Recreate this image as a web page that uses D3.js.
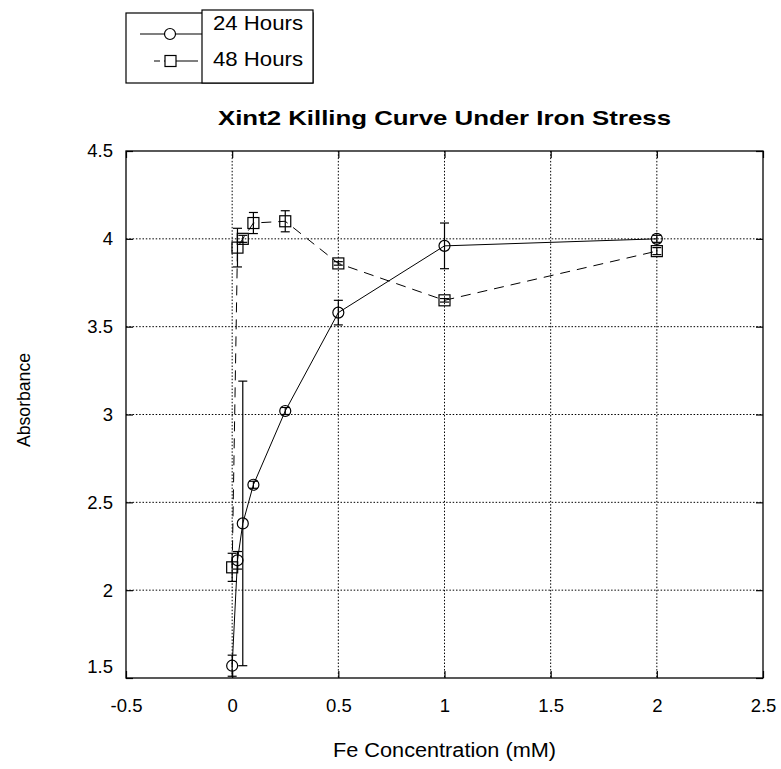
<!DOCTYPE html>
<html>
<head>
<meta charset="utf-8">
<script src="https://cdn.jsdelivr.net/npm/d3@7"></script>
<style>body{margin:0;background:white}</style>
</head>
<body>
<script>
const POLICE = '"Liberation Sans", Arial, sans-serif'

//Données
const concentrations = [0, 0.025, 0.05, 0.1, 0.25, 0.5, 1, 2]
const absorbance24 = [1.57, 2.17, 2.38, 2.60, 3.02, 3.58, 3.96, 4.00]
const erreur24 = [0.06, 0.05, 0.81, 0.02, 0.02, 0.07, 0.13, 0.02]
const absorbance48 = [2.13, 3.95, 4.00, 4.09, 4.10, 3.86, 3.65, 3.93]
const erreur48 = [0.08, 0.11, 0.02, 0.06, 0.06, 0.01, 0.01, 0.02]
const xTicks = [-0.5, 0, 0.5, 1, 1.5, 2, 2.5]
const yTicks = [1.5, 2, 2.5, 3, 3.5, 4, 4.5]
const seriesNames = ['24 Hours', '48 Hours']

const width = 781, height = 769
const gauche = 126, droite = 763, haut = 151, bas = 678

const svg = d3.select('body').append('svg')
    .attr('width', width).attr('height', height)
    .style('background-color', 'white')

const x = d3.scaleLinear().domain([-0.5, 2.5]).range([gauche, droite])
const y = d3.scaleLinear().domain([1.5, 4.5]).range([bas, haut])

//Grille pointillée
svg.append('g').selectAll('line').data(xTicks.slice(1, -1)).join('line')
    .attr('x1', d => x(d)).attr('x2', d => x(d)).attr('y1', haut).attr('y2', bas)
    .attr('stroke', '#000').attr('stroke-width', 1).attr('stroke-dasharray', '1.5,1.8')
svg.append('g').selectAll('line').data(yTicks.slice(1, -1)).join('line')
    .attr('x1', gauche).attr('x2', droite).attr('y1', d => y(d)).attr('y2', d => y(d))
    .attr('stroke', '#000').attr('stroke-width', 1).attr('stroke-dasharray', '1.5,1.8')

//Axes
const fmt = d => String(d)
const gx = svg.append('g').attr('transform', `translate(0,${bas})`)
    .call(d3.axisBottom(x).tickValues(xTicks).tickFormat(fmt).tickSizeInner(-7).tickSizeOuter(0).tickPadding(21))
const gxTop = svg.append('g').attr('transform', `translate(0,${haut})`)
    .call(d3.axisTop(x).tickValues(xTicks).tickFormat('').tickSizeInner(-7).tickSizeOuter(0))
const gy = svg.append('g').attr('transform', `translate(${gauche},0)`)
    .call(d3.axisLeft(y).tickValues(yTicks).tickFormat(fmt).tickSizeInner(-7).tickSizeOuter(0).tickPadding(13))
const gyRight = svg.append('g').attr('transform', `translate(${droite},0)`)
    .call(d3.axisRight(y).tickValues(yTicks).tickFormat('').tickSizeInner(-7).tickSizeOuter(0))
svg.selectAll('.domain').remove()
svg.selectAll('.tick line').attr('stroke', '#000').attr('stroke-width', 1.2)
svg.selectAll('.tick text').attr('font-family', POLICE).attr('font-size', 18.5).attr('fill', '#000')
gy.selectAll('.tick text').filter(d => d === 1.5).attr('dy', '-0.28em')

//Cadre
svg.append('rect').attr('x', gauche).attr('y', haut).attr('width', droite - gauche).attr('height', bas - haut)
    .attr('fill', 'none').attr('stroke', '#000').attr('stroke-width', 1.3)

const series = [
    { name: seriesNames[0], values: absorbance24, err: erreur24, dash: null, marker: 'circle' },
    { name: seriesNames[1], values: absorbance48, err: erreur48, dash: '10,7', marker: 'square' }
]

const line = d3.line().x(d => x(d[0])).y(d => y(d[1]))

series.forEach(s => {
    const pts = concentrations.map((c, i) => [c, s.values[i], s.err[i]])
    const g = svg.append('g')
    g.append('path').datum(pts).attr('d', line)
        .attr('fill', 'none').attr('stroke', '#000').attr('stroke-width', 1)
        .attr('stroke-dasharray', s.dash)
    //barres d'erreur
    const eb = g.append('g').selectAll('g').data(pts).join('g')
    eb.append('line').attr('x1', d => x(d[0])).attr('x2', d => x(d[0]))
        .attr('y1', d => y(d[1] - d[2])).attr('y2', d => y(d[1] + d[2]))
        .attr('stroke', '#000').attr('stroke-width', 1.2)
    eb.append('line').attr('x1', d => x(d[0]) - 4.5).attr('x2', d => x(d[0]) + 4.5)
        .attr('y1', d => y(d[1] - d[2])).attr('y2', d => y(d[1] - d[2]))
        .attr('stroke', '#000').attr('stroke-width', 1.2)
    eb.append('line').attr('x1', d => x(d[0]) - 4.5).attr('x2', d => x(d[0]) + 4.5)
        .attr('y1', d => y(d[1] + d[2])).attr('y2', d => y(d[1] + d[2]))
        .attr('stroke', '#000').attr('stroke-width', 1.2)
    //marqueurs
    if (s.marker === 'circle') {
        g.append('g').selectAll('circle').data(pts).join('circle')
            .attr('cx', d => x(d[0])).attr('cy', d => y(d[1])).attr('r', 5.5)
            .attr('fill', 'none').attr('stroke', '#000').attr('stroke-width', 1.2)
    } else {
        g.append('g').selectAll('rect').data(pts).join('rect')
            .attr('x', d => x(d[0]) - 5.5).attr('y', d => y(d[1]) - 5.5).attr('width', 11).attr('height', 11)
            .attr('fill', 'none').attr('stroke', '#000').attr('stroke-width', 1.2)
    }
})

//Titre
svg.append('text').text('Xint2 Killing Curve Under Iron Stress')
    .attr('font-family', POLICE).attr('font-size', 21).attr('font-weight', 'bold')
    .attr('textLength', 453).attr('lengthAdjust', 'spacingAndGlyphs')
    .attr('text-anchor', 'middle').attr('x', (gauche + droite) / 2).attr('y', 125)
//Titres des axes
svg.append('text').text('Fe Concentration (mM)')
    .attr('font-family', POLICE).attr('font-size', 19.5)
    .attr('textLength', 223).attr('lengthAdjust', 'spacingAndGlyphs')
    .attr('text-anchor', 'middle').attr('x', (gauche + droite) / 2).attr('y', 757)
svg.append('text').text('Absorbance')
    .attr('font-family', POLICE).attr('font-size', 17.5)
    .attr('textLength', 94).attr('lengthAdjust', 'spacingAndGlyphs')
    .attr('text-anchor', 'middle').attr('transform', 'translate(30,400) rotate(-90)')

//Légende
const leg = svg.append('g')
leg.append('rect').attr('x', 126).attr('y', 13).attr('width', 187).attr('height', 70)
    .attr('fill', 'white').attr('stroke', '#000').attr('stroke-width', 1.2)
leg.append('rect').attr('x', 202).attr('y', 10).attr('width', 111).attr('height', 73)
    .attr('fill', 'white').attr('stroke', '#000').attr('stroke-width', 1.2)
leg.append('line').attr('x1', 140).attr('x2', 202).attr('y1', 34).attr('y2', 34)
    .attr('stroke', '#000').attr('stroke-width', 1.2)
leg.append('circle').attr('cx', 170).attr('cy', 34).attr('r', 5.5)
    .attr('fill', 'white').attr('stroke', '#000').attr('stroke-width', 1.2)
leg.append('line').attr('x1', 154).attr('x2', 198).attr('y1', 61).attr('y2', 61)
    .attr('stroke', '#000').attr('stroke-width', 1.2).attr('stroke-dasharray', '6,4,40')
leg.append('rect').attr('x', 165).attr('y', 55.5).attr('width', 11).attr('height', 11)
    .attr('fill', 'white').attr('stroke', '#000').attr('stroke-width', 1.2)
leg.selectAll('text.name').data(seriesNames).join('text').attr('class', 'name')
    .text(d => d).attr('font-family', POLICE).attr('font-size', 20.5)
    .attr('textLength', 90).attr('lengthAdjust', 'spacingAndGlyphs')
    .attr('x', 213).attr('y', (d, i) => 30 + i * 36)
</script>
</body>
</html>
